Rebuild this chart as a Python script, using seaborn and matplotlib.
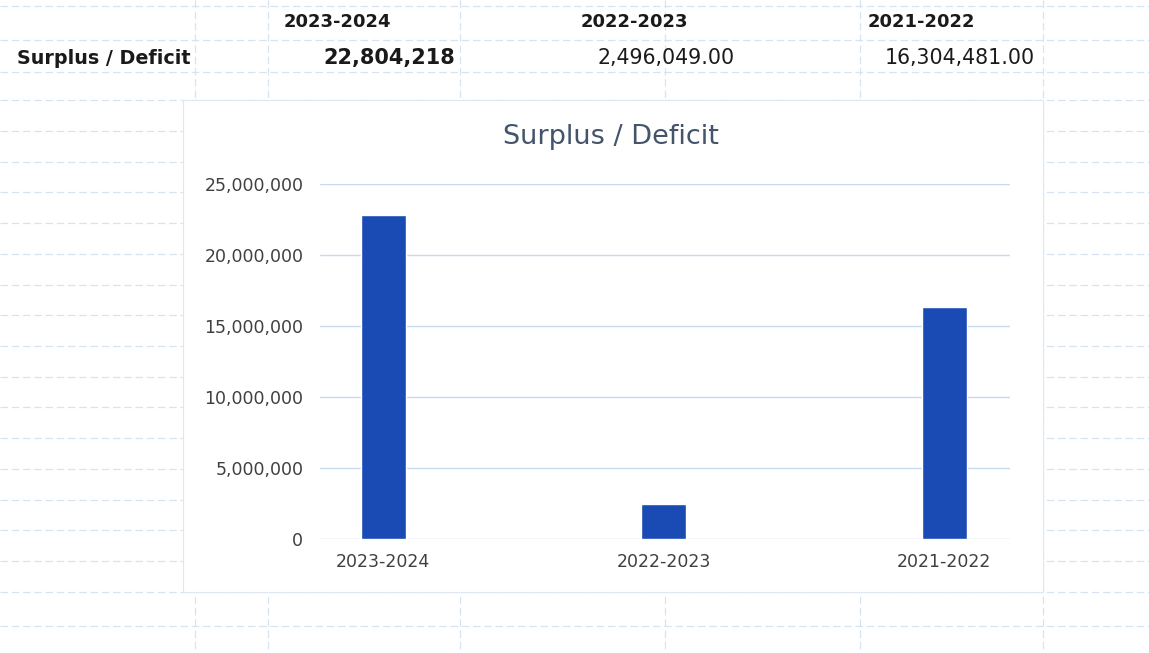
import matplotlib
matplotlib.use("Agg")
import matplotlib.pyplot as plt
from matplotlib.patches import Rectangle
from matplotlib.ticker import FuncFormatter
import seaborn as sns
import pandas as pd

# ---- data ----
years = ["2023-2024", "2022-2023", "2021-2022"]
surplus = [22804218, 2496049.00, 16304481.00]
row_label = "Surplus / Deficit"
value_texts = ["22,804,218", "2,496,049.00", "16,304,481.00"]
y_ticks = [0, 5000000, 10000000, 15000000, 20000000, 25000000]

W, H = 1149, 653
sns.set_theme(style="white")
plt.rcParams["font.family"] = ["DejaVu Sans"]

fig = plt.figure(figsize=(W / 100, H / 100), dpi=100)
fig.patch.set_facecolor("white")

# ---- spreadsheet background (pixel coordinates) ----
bg = fig.add_axes([0, 0, 1, 1])
bg.set_xlim(0, W)
bg.set_ylim(H, 0)
bg.axis("off")

grid_c = "#d5e4f0"
row_lines = [6, 40, 72, 100, 131, 162, 192, 223, 254, 285, 315, 346,
             377, 407, 438, 469, 500, 530, 561, 592, 626]
col_lines = [195, 268, 460, 665, 860, 1043]
for y in row_lines:
    bg.plot([0, W], [y, y], color=grid_c, lw=0.9, ls=(0, (6, 3)), zorder=0)
for x in col_lines:
    bg.plot([x, x], [0, H], color=grid_c, lw=0.9, ls=(0, (6, 3)), zorder=0)

# chart area (white box drawn over the sheet)
bg.add_patch(Rectangle((183, 100), 1043 - 183, 592 - 100,
                       facecolor="white", edgecolor="#dde8f2", lw=0.8, zorder=1))

# table text
hdr_x = [337, 634, 921]
for x, t in zip(hdr_x, years):
    bg.text(x, 22, t, ha="center", va="center", fontsize=13,
            fontweight="bold", color="#1a1a1a", zorder=2)
bg.text(17, 58, row_label, ha="left", va="center", fontsize=13.8,
        fontweight="bold", color="#1a1a1a", zorder=2)
val_right = [455, 735, 1035]
for i, (x, t) in enumerate(zip(val_right, value_texts)):
    bg.text(x, 58, t, ha="right", va="center",
            fontsize=15 if i == 0 else 14.8,
            fontweight="bold" if i == 0 else "normal",
            color="#1a1a1a", zorder=2)

# ---- bar chart ----
x0, x1 = 320, 1010
y_top, y_zero = 184, 539
ax = fig.add_axes([x0 / W, (H - y_zero) / H, (x1 - x0) / W, (y_zero - y_top) / H])
ax.set_facecolor("none")

df = pd.DataFrame({"year": years, "value": surplus})
sns.barplot(data=df, x="year", y="value", color="#1a4bb4", width=0.16,
            saturation=1, ax=ax, zorder=3)

ax.set_xlim(-0.225, 2.235)
ax.set_ylim(0, 25000000)
ax.set_yticks(y_ticks)
ax.yaxis.set_major_formatter(FuncFormatter(lambda v, p: f"{v:,.0f}"))
ax.yaxis.grid(True, color="#c6dbee", lw=1.0)
ax.xaxis.grid(False)
ax.set_axisbelow(True)
for s in ax.spines.values():
    s.set_visible(False)
ax.set_xlabel("")
ax.set_ylabel("")
ax.tick_params(axis="y", length=0, pad=12, labelsize=12.5, labelcolor="#404040")
ax.tick_params(axis="x", length=0, pad=10, labelsize=12.5, labelcolor="#404040")

fig.text(611 / W, 1 - 137 / H, row_label, ha="center", va="center",
         fontsize=19.5, color="#44546a")

fig.savefig("out.png", dpi=100)
